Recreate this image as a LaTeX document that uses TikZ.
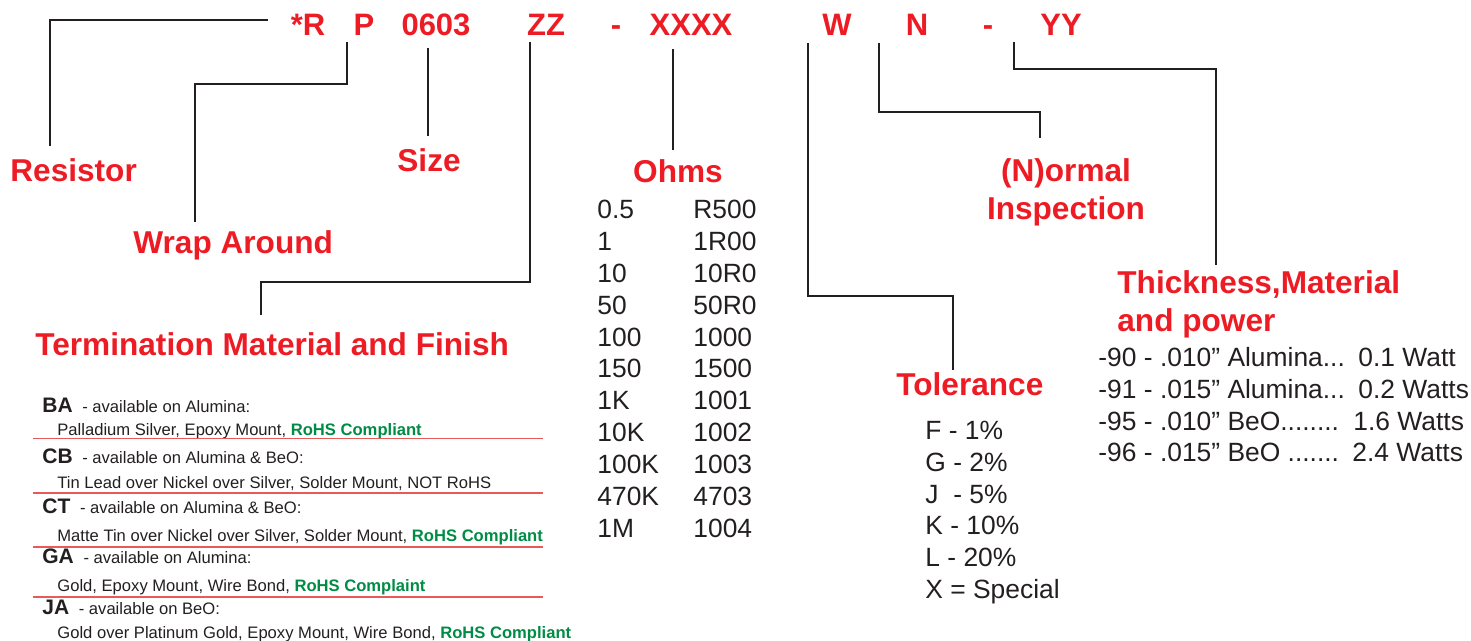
\documentclass[tikz,border=0pt]{standalone}
\usepackage{fontspec}
\setmainfont{Liberation Sans}
\definecolor{tred}{RGB}{237,28,36}
\definecolor{tgreen}{RGB}{0,140,69}
\definecolor{tink}{RGB}{35,31,32}
\definecolor{tline}{RGB}{232,90,90}
\begin{document}
\begin{tikzpicture}[x=0.5pt,y=-0.5pt,
  code/.style={text=tred,font=\fontsize{15.5}{18}\selectfont\bfseries,anchor=base,inner sep=0pt},
  head/.style={text=tred,font=\fontsize{15.8}{19}\selectfont\bfseries,anchor=base west,inner sep=0pt},
  item/.style={text=tink,font=\fontsize{13.2}{16}\selectfont,anchor=base west,inner sep=0pt},
  small/.style={text=tink,font=\fontsize{8.3}{10}\selectfont,anchor=base west,inner sep=0pt},
  conn/.style={draw=tink,line width=1pt},
  sepline/.style={draw=tline,line width=0.6pt}]
\useasboundingbox (0,0) rectangle (1471,641);
% code line
\node[code] (cR) at (308,36) {*R};
\node[code] (cP) at (364,36) {P};
\node[code] (cS) at (436,36) {0603};
\node[code] (cZ) at (546,36) {ZZ};
\node[code] (cD1) at (616,36) {-};
\node[code] (cX) at (691,36) {XXXX};
\node[code] (cW) at (837,36) {W};
\node[code] (cN) at (917,36) {N};
\node[code] (cD2) at (988,36) {-};
\node[code] (cY) at (1061,36) {YY};
% headings
\node[head] (resistor) at (10,182) {Resistor};
\node[head] (wrap) at (133,254) {Wrap Around};
\node[head,anchor=base] (size) at (429,172) {Size};
\node[head] (term) at (35,356) {Termination Material and Finish};
\node[head,anchor=base] (ohms) at (678,183) {Ohms};
\node[head,anchor=base] (normal) at (1066,182) {(N)ormal};
\node[head,anchor=base] (insp) at (1066,220) {Inspection};
\node[head] (tol) at (896,395) {Tolerance};
\node[head] (thick) at (1117,294) {Thickness,Material};
\node[head] (power) at (1117,332) {and power};
% connectors
\coordinate (r1) at (268,20);
\coordinate (r2) at (50,146);
\draw[conn] (r1) -| (r2);
\coordinate (w1) at (347,42);
\coordinate (w2) at (195,84);
\coordinate (w3) at (195,222);
\draw[conn] (w1) |- (w2) -- (w3);
\coordinate (s1) at (428,48);
\coordinate (s2) at (428,136);
\draw[conn] (s1) -- (s2);
\coordinate (z1) at (530,42);
\coordinate (z2) at (261,282);
\coordinate (z3) at (261,315);
\draw[conn] (z1) |- (z2) -- (z3);
\coordinate (x1) at (673,49);
\coordinate (x2) at (673,150);
\draw[conn] (x1) -- (x2);
\coordinate (wt1) at (808,43);
\coordinate (wt2) at (953,296);
\coordinate (wt3) at (953,370);
\draw[conn] (wt1) |- (wt2) -- (wt3);
\coordinate (n1) at (879,43);
\coordinate (n2) at (1040,112);
\coordinate (n3) at (1040,138);
\draw[conn] (n1) |- (n2) -- (n3);
\coordinate (y1) at (1014,42);
\coordinate (y2) at (1216,69);
\coordinate (y3) at (1216,265);
\draw[conn] (y1) |- (y2) -- (y3);
% ohms table
\foreach \a/\b [count=\i from 0] in {0.5/R500,1/1R00,10/10R0,50/50R0,100/1000,150/1500,1K/1001,10K/1002,100K/1003,470K/4703,1M/1004}{
  \node[item] (oa\i) at (597,218.5+31.9*\i) {\a};
  \node[item] (ob\i) at (693,218.5+31.9*\i) {\b};
}
% tolerance
\node[item] (t1) at (925,439.3) {F - 1\%};
\node[item] (t2) at (925,471.3) {G - 2\%};
\node[item] (t3) at (925,503.3) {J\ \ - 5\%};
\node[item] (t4) at (925,534.3) {K - 10\%};
\node[item] (t5) at (925,566.3) {L - 20\%};
\node[item] (t6) at (925,598.3) {X = Special};
% thickness
\node[item] (k1) at (1098,366.3) {-90 - .010” Alumina...};
\node[item] (k1w) at (1358,366.3) {0.1 Watt};
\node[item] (k2) at (1098,398.3) {-91 - .015” Alumina...};
\node[item] (k2w) at (1358,398.3) {0.2 Watts};
\node[item] (k3) at (1098,430.3) {-95 - .010” BeO........};
\node[item] (k3w) at (1353,430.3) {1.6 Watts};
\node[item] (k4) at (1098,461.3) {-96 - .015” BeO .......};
\node[item] (k4w) at (1352,461.3) {2.4 Watts};
% termination table
\newcommand{\bcode}[1]{{\fontsize{10.5}{12}\selectfont\bfseries #1}\hspace{2.5pt}}
\newcommand{\rohs}[1]{{\color{tgreen}\bfseries #1}}
\node[small] (ba) at (42,412) {\bcode{BA} - available on Alumina:};
\node[small] (bad) at (57,435) {Palladium Silver, Epoxy Mount, \rohs{RoHS Compliant}};
\coordinate (l1a) at (33,438.5); \coordinate (l1b) at (543,438.5);
\draw[sepline] (l1a) -- (l1b);
\node[small] (cb) at (42,463) {\bcode{CB} - available on Alumina \& BeO:};
\node[small] (cbd) at (57,488) {Tin Lead over Nickel over Silver, Solder Mount, NOT RoHS};
\coordinate (l2a) at (33,493); \coordinate (l2b) at (543,493);
\draw[sepline] (l2a) -- (l2b);
\node[small] (ct) at (42,513) {\bcode{CT} - available on Alumina \& BeO:};
\node[small] (ctd) at (57,541) {Matte Tin over Nickel over Silver, Solder Mount, \rohs{RoHS Compliant}};
\coordinate (l3a) at (33,547); \coordinate (l3b) at (543,547);
\draw[sepline] (l3a) -- (l3b);
\node[small] (ga) at (42,563) {\bcode{GA} - available on Alumina:};
\node[small] (gad) at (57,591) {Gold, Epoxy Mount, Wire Bond, \rohs{RoHS Complaint}};
\coordinate (l4a) at (33,597); \coordinate (l4b) at (543,597);
\draw[sepline] (l4a) -- (l4b);
\node[small] (ja) at (42,614) {\bcode{JA} - available on BeO:};
\node[small] (jad) at (57,638) {Gold over Platinum Gold, Epoxy Mount, Wire Bond, \rohs{RoHS Compliant}};
\end{tikzpicture}
\end{document}
